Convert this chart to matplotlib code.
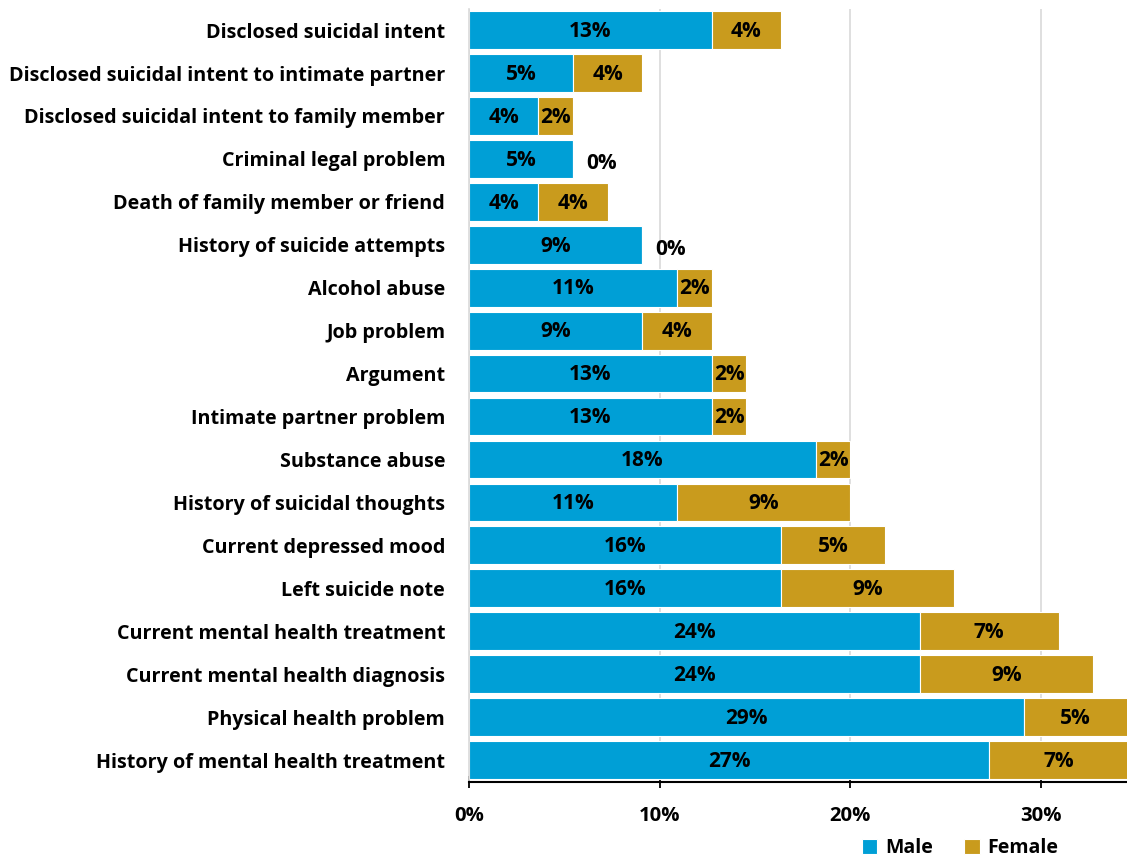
import matplotlib.pyplot as plt

# Share of cases by sex (percent of all cases)
categories = [
    "Disclosed suicidal intent",
    "Disclosed suicidal intent to intimate partner",
    "Disclosed suicidal intent to family member",
    "Criminal legal problem",
    "Death of family member or friend",
    "History of suicide attempts",
    "Alcohol abuse",
    "Job problem",
    "Argument",
    "Intimate partner problem",
    "Substance abuse",
    "History of suicidal thoughts",
    "Current depressed mood",
    "Left suicide note",
    "Current mental health treatment",
    "Current mental health diagnosis",
    "Physical health problem",
    "History of mental health treatment",
]
male = [12.73, 5.45, 3.64, 5.45, 3.64, 9.09, 10.91, 9.09, 12.73, 12.73,
        18.18, 10.91, 16.36, 16.36, 23.64, 23.64, 29.09, 27.27]
female = [3.64, 3.64, 1.82, 0.0, 3.64, 0.0, 1.82, 3.64, 1.82, 1.82,
          1.82, 9.09, 5.45, 9.09, 7.27, 9.09, 5.45, 7.27]
x_ticks = [0, 10, 20, 30]

MALE_COLOR = "#009FD6"
FEMALE_COLOR = "#C99B1D"

plt.rcParams["font.family"] = ["Open Sans", "DejaVu Sans"]
plt.rcParams["font.weight"] = "bold"

fig = plt.figure(figsize=(11.27, 8.59), dpi=100)
ax = fig.add_axes([0.416, 0.0902, 0.584, 0.8998])

y = list(range(len(categories)))
bars_m = ax.barh(y, male, height=0.88, color=MALE_COLOR, edgecolor="white",
                 linewidth=0.8, label="Male", zorder=2)
bars_f = ax.barh(y, female, left=male, height=0.88, color=FEMALE_COLOR,
                 edgecolor="white", linewidth=0.8, label="Female", zorder=2)

LABEL_FS = 15
for i in y:
    ax.text(male[i] / 2, i + 0.03, f"{male[i]:.0f}%", ha="center", va="center",
            fontsize=LABEL_FS, fontweight="bold", zorder=3)
    if female[i] > 0:
        ax.text(male[i] + female[i] / 2, i + 0.03, f"{female[i]:.0f}%", ha="center",
                va="center", fontsize=LABEL_FS, fontweight="bold", zorder=3)
    else:
        ax.text(male[i] + 1.5, i + 0.1, "0%", ha="center", va="center",
                fontsize=LABEL_FS, fontweight="bold", zorder=3)

ax.set_ylim(len(categories) - 0.5, -0.5)
ax.set_xlim(0, 34.5)
ax.set_yticks(y)
ax.set_yticklabels(categories, fontsize=14.2, fontweight="bold")
ax.tick_params(axis="y", length=0, pad=17)
ax.set_xticks(x_ticks)
ax.set_xticklabels([f"{t}%" for t in x_ticks], fontsize=14.6, fontweight="bold")
ax.tick_params(axis="x", direction="inout", length=9, width=1.3, pad=13)

ax.grid(axis="x", color="#D9D9D9", linewidth=1.2, zorder=0)
ax.set_axisbelow(True)
for side in ["top", "right"]:
    ax.spines[side].set_visible(False)
ax.spines["left"].set_color("#D9D9D9")
ax.spines["left"].set_linewidth(1.2)
ax.spines["bottom"].set_color("black")
ax.spines["bottom"].set_linewidth(1.5)

fig.legend(handles=[bars_m, bars_f], loc="center", bbox_to_anchor=(0.852, 0.013),
           ncol=2, frameon=False, prop={"size": 14, "weight": "bold"},
           handlelength=0.8, handleheight=0.8, handletextpad=0.4, columnspacing=1.6)

fig.savefig("out.png", dpi=100)
